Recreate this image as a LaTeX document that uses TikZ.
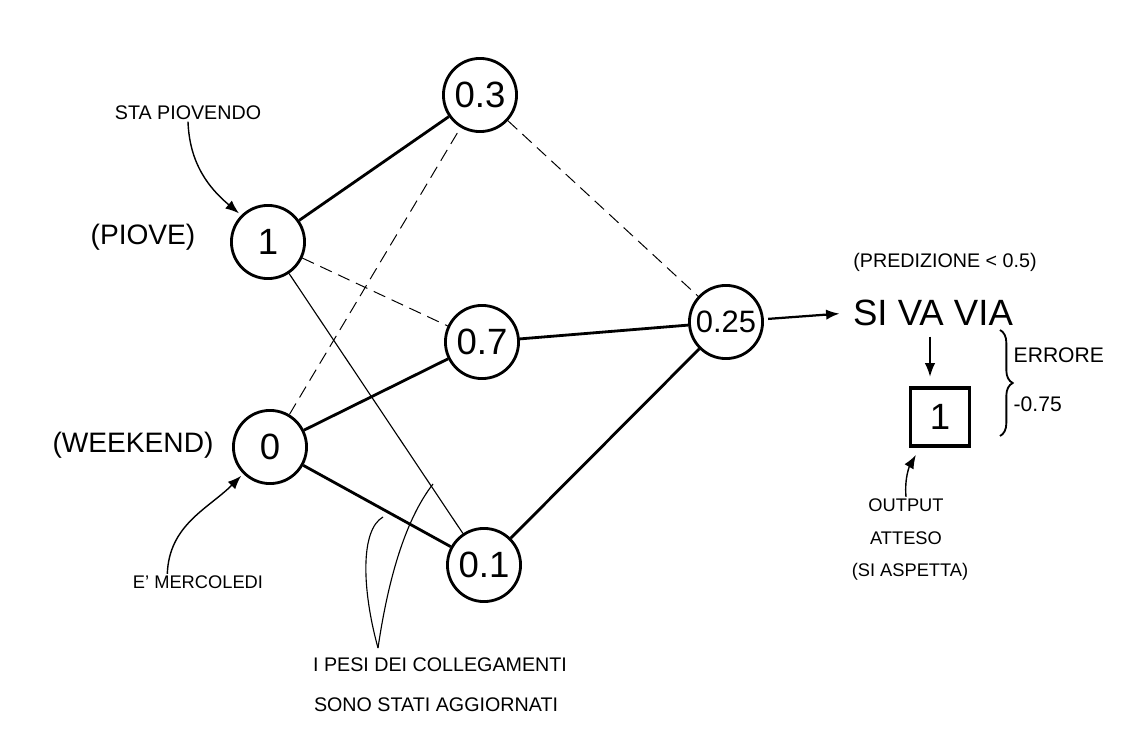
\documentclass[tikz,border=0pt]{standalone}
\usepackage{fontspec}
\setmainfont{Liberation Sans}
\usepackage{tikz}
\usetikzlibrary{arrows.meta,positioning,calc,decorations.pathreplacing}

\begin{document}
\begin{tikzpicture}[
  x=0.025cm, y=-0.025cm,
  neuron/.style={draw,circle,line width=2pt,minimum size=52pt,inner sep=0pt,font=\fontsize{26}{28}\selectfont},
  wbold/.style={line width=2pt},
  wthin/.style={line width=0.8pt},
  wdash/.style={line width=0.7pt,dash pattern=on 9pt off 5pt},
  note/.style={font=\fontsize{14}{16}\selectfont,inner sep=1pt},
  tag/.style={font=\fontsize{20}{22}\selectfont,inner sep=1pt},
  >={Latex[length=3.4mm,width=2.6mm]}
]
\useasboundingbox (0,0) rectangle (1123,754);

% neurons
\node[neuron] (in1) at (268,242) {1};
\node[neuron] (in0) at (270,447) {0};
\node[neuron] (h1) at (480,95) {0.3};
\node[neuron] (h2) at (482,342) {0.7};
\node[neuron] (h3) at (484,565) {0.1};
\node[neuron,font=\fontsize{22}{24}\selectfont] (out) at (726,322) {0.25};

% weights
\foreach \a/\b/\w in {in1/h1/wbold,in1/h2/wdash,in1/h3/wthin,in0/h1/wdash,in0/h2/wbold,in0/h3/wbold,h1/out/wdash,h2/out/wbold,h3/out/wbold}{
  \draw[\w] (\a) -- (\b);
}

% inputs
\node[tag] (piove) at (143,237) {(PIOVE)};
\node[tag] (week) at (133,445) {(WEEKEND)};
\node[note] (sta) at (188,113) {STA PIOVENDO};
\node[note,font=\fontsize{13}{15}\selectfont] (merc) at (198,582) {E' MERCOLEDI};
\draw[->,line width=1pt,shorten >=2pt] (sta.south) to[out=-88,in=140] (in1.135);
\draw[->,line width=1pt,shorten >=2pt] ($(merc.north west)+(36,0)$) to[out=88,in=225] (in0.225);

% output side
\node[font=\fontsize{26}{28}\selectfont] (siva) at (933,313) {SI VA VIA};
\node[note] (pred) at (945,262) {(PREDIZIONE < 0.5)};
\draw[->,line width=1.6pt,shorten <=3pt,shorten >=6pt] (out) -- (siva.west);
\node[draw,line width=2.6pt,minimum width=42pt,minimum height=41pt,font=\fontsize{26}{28}\selectfont] (box) at (940,417) {1};
\draw[->,line width=1pt,shorten <=4pt,shorten >=8pt] (siva.south -| 930,0) -- (930,388);
\draw[line width=1.3pt,decorate,decoration={brace,amplitude=9pt}] (1000,330) -- (1000,436);
\node[note,font=\fontsize{15}{17}\selectfont,anchor=west] (err) at (1012,355) {ERRORE};
\node[note,font=\fontsize{15}{17}\selectfont,anchor=west] (errv) at (1012,404) {-0.75};
\node[note,font=\fontsize{13}{15}\selectfont] (outp) at (906,505) {OUTPUT};
\node[note,font=\fontsize{13}{15}\selectfont] (att) at (906,538) {ATTESO};
\node[note,font=\fontsize{13}{15}\selectfont] (asp) at (910,572) {(SI ASPETTA)};
\draw[->,line width=1pt,shorten >=6pt] (outp.north) to[out=95,in=240] (box.237);

% updated weights
\node[note] (pesi) at (440,665) {I PESI DEI COLLEGAMENTI};
\node[note] (stati) at (436,705) {SONO STATI AGGIORNATI};
\coordinate (tail) at (378,648);
\coordinate (w1) at (383,517);
\coordinate (w2) at (433,484);
\draw[wthin] (tail) .. controls (362,590) and (360,530) .. (w1);
\draw[wthin] (tail) .. controls (388,580) and (405,520) .. (w2);
\end{tikzpicture}
\end{document}
